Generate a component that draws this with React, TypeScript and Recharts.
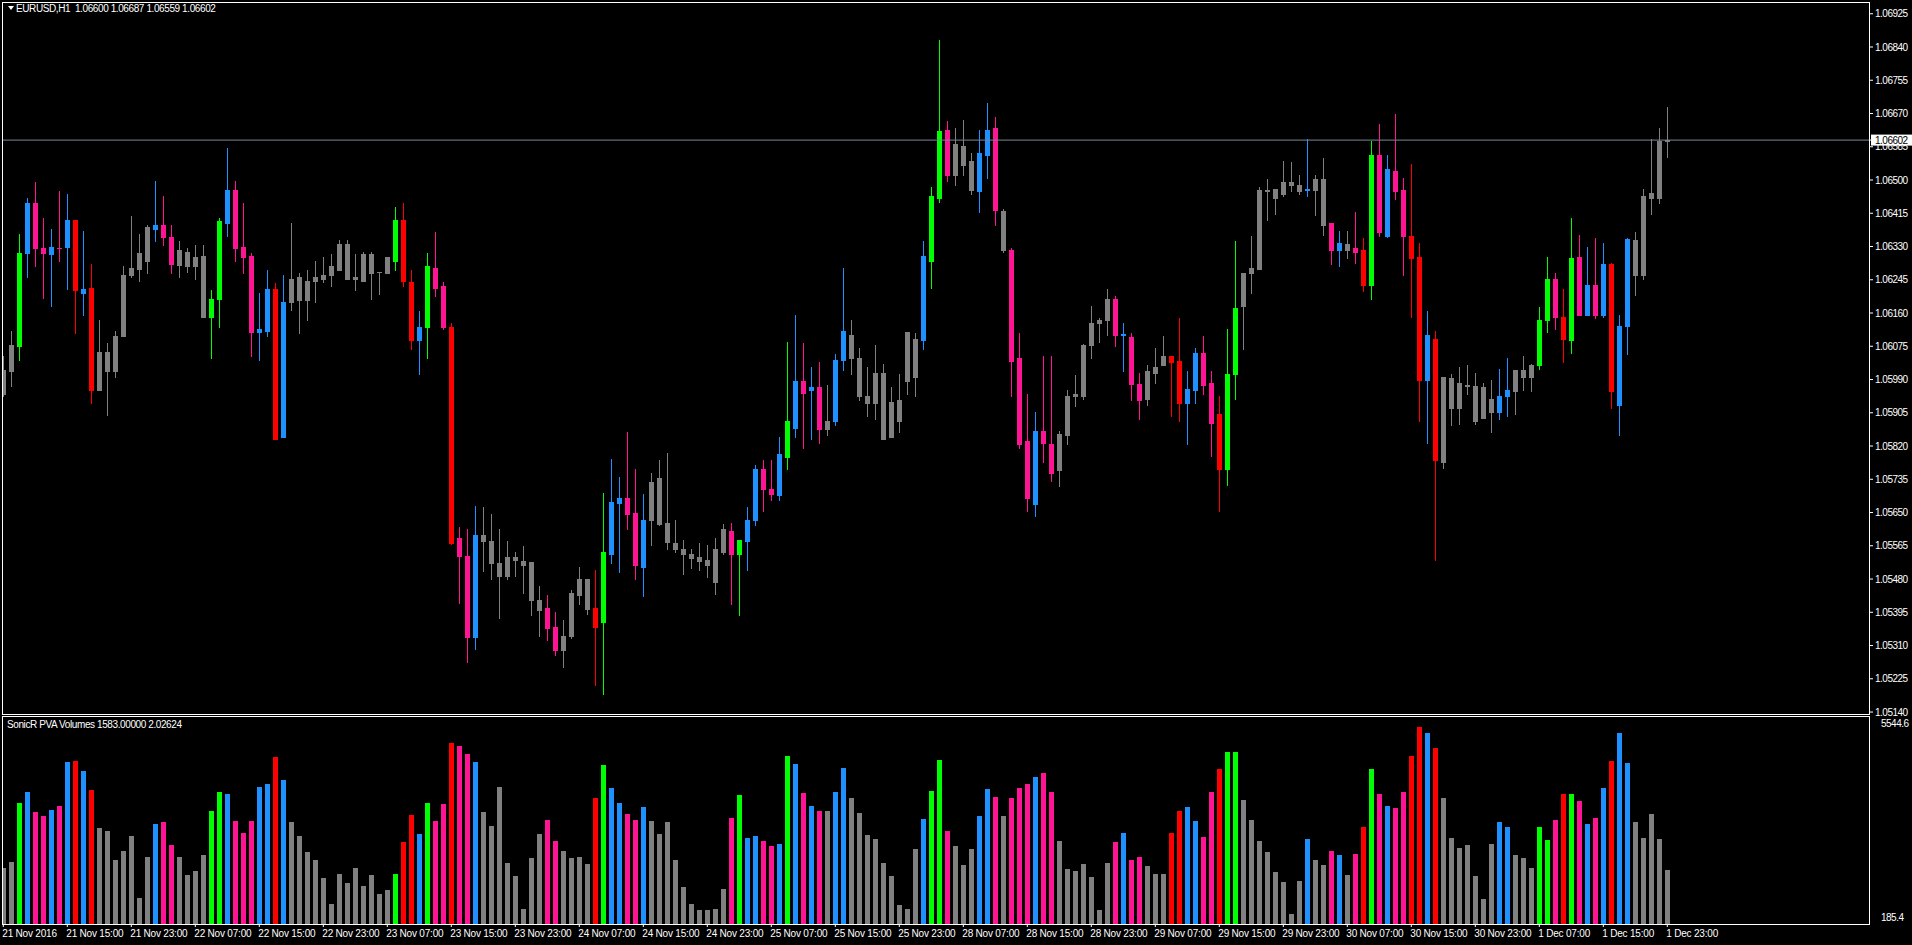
import React from 'react';
import { ComposedChart, Bar, XAxis, YAxis, ReferenceLine } from 'recharts';

// EURUSD H1, 21 Nov 07:00 .. 1 Dec 23:00 (one entry per bar)
const opens = [
  1.05954, 1.06011, 1.06075, 1.06314, 1.0644, 1.06325, 1.0631, 1.06327, 1.0633, 1.06397,
  1.06212, 1.06225, 1.05964, 1.06061, 1.06011, 1.061, 1.06256, 1.06273, 1.06292, 1.06376,
  1.06386, 1.06355, 1.06284, 1.06317, 1.06281, 1.06306, 1.06151, 1.06195, 1.06391, 1.06475,
  1.0633, 1.06306, 1.06112, 1.06115, 1.06222, 1.05844, 1.06187, 1.06251, 1.06192, 1.06243,
  1.06246, 1.06256, 1.06271, 1.06337, 1.06246, 1.06243, 1.06312, 1.06265, 1.06263, 1.06294,
  1.06399, 1.0624, 1.0609, 1.06123, 1.06276, 1.06228, 1.06125, 1.05586, 1.0554, 1.05331,
  1.05593, 1.05576, 1.0552, 1.05489, 1.05537, 1.05527, 1.05523, 1.05426, 1.05407, 1.05357,
  1.05299, 1.05334, 1.05438, 1.05479, 1.05407, 1.0537, 1.05543, 1.05675, 1.05688, 1.0565,
  1.05512, 1.0563, 1.05737, 1.05624, 1.05573, 1.05556, 1.05545, 1.05527, 1.05529, 1.05473,
  1.0555, 1.05604, 1.05543, 1.05578, 1.05632, 1.0576, 1.05709, 1.05694, 1.05793, 1.05865,
  1.05987, 1.05962, 1.05972, 1.05863, 1.05883, 1.06041, 1.06104, 1.06046, 1.05949, 1.05931,
  1.06007, 1.05842, 1.05883, 1.05987, 1.05997, 1.06092, 1.06294, 1.06455, 1.06629, 1.06512,
  1.06586, 1.06549, 1.06473, 1.06565, 1.06632, 1.06422, 1.06322, 1.06044, 1.05832, 1.05673,
  1.05859, 1.05826, 1.05758, 1.05849, 1.05949, 1.05947, 1.06077, 1.06135, 1.06141, 1.06195,
  1.06103, 1.06098, 1.05978, 1.05939, 1.06007, 1.06028, 1.06049, 1.06038, 1.05929, 1.05964,
  1.06057, 1.05982, 1.05902, 1.0576, 1.06005, 1.06179, 1.06263, 1.06273, 1.06475, 1.06478,
  1.06463, 1.06496, 1.06488, 1.06474, 1.06475, 1.06502, 1.06389, 1.0632, 1.06337, 1.06325,
  1.06322, 1.06232, 1.06565, 1.06358, 1.06524, 1.06475, 1.06358, 1.06302, 1.0599, 1.06094,
  1.0578, 1.05995, 1.05916, 1.05974, 1.05974, 1.05892, 1.05941, 1.05906, 1.05947, 1.0596,
  1.05997, 1.05997, 1.06026, 1.06141, 1.06246, 1.06151, 1.06092, 1.06304, 1.06156, 1.06232,
  1.06156, 1.06286, 1.05926, 1.06128, 1.06347, 1.06256, 1.06455, 1.06455, 1.066,
];

const highs = [
  1.06049, 1.06115, 1.06363, 1.06455, 1.06496, 1.06403, 1.06376, 1.06471, 1.06463, 1.06397,
  1.0637, 1.06286, 1.06141, 1.06084, 1.06115, 1.06281, 1.06409, 1.06363, 1.06386, 1.06498,
  1.0646, 1.06386, 1.06343, 1.06325, 1.06333, 1.06335, 1.0622, 1.06403, 1.06583, 1.06498,
  1.0644, 1.06314, 1.06212, 1.06271, 1.06236, 1.06258, 1.06389, 1.06261, 1.06271, 1.06292,
  1.06304, 1.06312, 1.06347, 1.06347, 1.06312, 1.06317, 1.06317, 1.06266, 1.06304, 1.06432,
  1.0644, 1.06269, 1.06166, 1.06314, 1.06368, 1.0624, 1.06135, 1.05612, 1.05609, 1.05667,
  1.05665, 1.05647, 1.05609, 1.05578, 1.05548, 1.05564, 1.05523, 1.05461, 1.0544, 1.05395,
  1.05375, 1.05451, 1.05512, 1.05479, 1.05502, 1.05701, 1.05788, 1.05742, 1.05857, 1.0576,
  1.05698, 1.0575, 1.05785, 1.05803, 1.0563, 1.05581, 1.05556, 1.05573, 1.05566, 1.05586,
  1.0562, 1.05622, 1.05581, 1.05663, 1.05772, 1.05785, 1.05783, 1.05842, 1.06087, 1.06154,
  1.06084, 1.06023, 1.06036, 1.05977, 1.06054, 1.06276, 1.06141, 1.06071, 1.06023, 1.06077,
  1.0603, 1.05972, 1.06005, 1.06112, 1.0611, 1.06345, 1.06481, 1.06859, 1.06652, 1.06634,
  1.06654, 1.06568, 1.06629, 1.06698, 1.06662, 1.06427, 1.06327, 1.0611, 1.05954, 1.05908,
  1.06049, 1.06051, 1.05859, 1.05964, 1.06001, 1.06082, 1.06179, 1.06146, 1.06222, 1.06203,
  1.06135, 1.06108, 1.06007, 1.06026, 1.06071, 1.061, 1.06049, 1.06146, 1.06013, 1.06071,
  1.061, 1.06013, 1.05949, 1.06118, 1.06343, 1.06261, 1.06358, 1.06483, 1.06502, 1.06478,
  1.06549, 1.06547, 1.06512, 1.06604, 1.06514, 1.06557, 1.06389, 1.0637, 1.0637, 1.06419,
  1.06353, 1.06599, 1.06644, 1.06565, 1.06669, 1.06504, 1.06541, 1.06339, 1.06166, 1.06115,
  1.05997, 1.06003, 1.06023, 1.06028, 1.06007, 1.05982, 1.0599, 1.06018, 1.06046, 1.06015,
  1.06049, 1.0603, 1.06176, 1.06302, 1.06263, 1.06222, 1.06403, 1.0636, 1.0633, 1.06353,
  1.06339, 1.06289, 1.06154, 1.06353, 1.06366, 1.06478, 1.06604, 1.06634, 1.06687,
];

const lows = [
  1.05948, 1.05974, 1.06041, 1.06251, 1.06279, 1.06199, 1.06179, 1.06292, 1.06222, 1.0611,
  1.06156, 1.05929, 1.05964, 1.059, 1.05997, 1.061, 1.06251, 1.06243, 1.06263, 1.06343,
  1.06335, 1.06263, 1.06251, 1.06266, 1.06246, 1.06151, 1.06046, 1.06125, 1.06358, 1.06294,
  1.06263, 1.06051, 1.06041, 1.061, 1.05839, 1.05844, 1.06168, 1.0611, 1.06143, 1.06187,
  1.06238, 1.06228, 1.06269, 1.06246, 1.0622, 1.06243, 1.06197, 1.06209, 1.06261, 1.06271,
  1.0623, 1.06067, 1.06005, 1.06046, 1.06203, 1.06118, 1.05569, 1.05419, 1.05267, 1.05302,
  1.055, 1.05479, 1.05381, 1.05481, 1.05489, 1.05444, 1.05388, 1.05334, 1.05324, 1.05286,
  1.05256, 1.05329, 1.05415, 1.0539, 1.0521, 1.05186, 1.0552, 1.05497, 1.05609, 1.05481,
  1.05436, 1.05568, 1.05617, 1.05558, 1.05548, 1.05492, 1.05509, 1.05502, 1.05484, 1.05443,
  1.05545, 1.05415, 1.05389, 1.05502, 1.05617, 1.05655, 1.05683, 1.05681, 1.0576, 1.05842,
  1.05816, 1.05839, 1.05828, 1.05849, 1.05873, 1.06015, 1.06003, 1.05937, 1.05896, 1.0589,
  1.05839, 1.05842, 1.05857, 1.05954, 1.05949, 1.06069, 1.06225, 1.06444, 1.06498, 1.06486,
  1.06512, 1.06463, 1.06417, 1.06506, 1.06386, 1.06317, 1.05947, 1.05816, 1.05655, 1.0564,
  1.0578, 1.05731, 1.05717, 1.05824, 1.05923, 1.05939, 1.06044, 1.06087, 1.06104, 1.06075,
  1.06011, 1.05937, 1.05888, 1.05926, 1.05982, 1.06028, 1.05898, 1.05885, 1.05824, 1.05929,
  1.05954, 1.05795, 1.05653, 1.05721, 1.05939, 1.06069, 1.06212, 1.06273, 1.06399, 1.06414,
  1.06458, 1.06471, 1.06463, 1.0646, 1.06411, 1.0636, 1.06286, 1.06279, 1.063, 1.06289,
  1.06215, 1.06195, 1.06358, 1.06355, 1.06452, 1.06256, 1.06151, 1.05883, 1.05828, 1.05529,
  1.05764, 1.05873, 1.05877, 1.05954, 1.05877, 1.05892, 1.05857, 1.05888, 1.05896, 1.05902,
  1.05962, 1.0596, 1.06018, 1.06112, 1.0612, 1.06034, 1.06059, 1.06156, 1.06156, 1.06146,
  1.06151, 1.05918, 1.05849, 1.06054, 1.06207, 1.06248, 1.06414, 1.06442, 1.06559,
];

const closes = [
  1.06015, 1.06079, 1.06314, 1.0644, 1.06325, 1.06314, 1.0633, 1.06325, 1.06397, 1.0622,
  1.06222, 1.05964, 1.06061, 1.06011, 1.06102, 1.06258, 1.06276, 1.06314, 1.06381, 1.06386,
  1.06355, 1.06286, 1.0632, 1.06281, 1.06304, 1.06151, 1.06197, 1.06394, 1.06475, 1.06327,
  1.06304, 1.06112, 1.06118, 1.06222, 1.05839, 1.06189, 1.06248, 1.06192, 1.06243, 1.06251,
  1.06258, 1.06281, 1.06337, 1.06246, 1.06253, 1.06312, 1.06263, 1.06264, 1.06302, 1.06399,
  1.06243, 1.0609, 1.06125, 1.06279, 1.06225, 1.06123, 1.05573, 1.0554, 1.05333, 1.05593,
  1.05576, 1.0552, 1.05489, 1.05537, 1.05529, 1.05517, 1.05426, 1.054, 1.05355, 1.05299,
  1.05334, 1.05444, 1.05479, 1.05403, 1.05357, 1.05548, 1.05678, 1.05688, 1.05647, 1.05515,
  1.05632, 1.05729, 1.0562, 1.05574, 1.05556, 1.05545, 1.05535, 1.05537, 1.05515, 1.05556,
  1.05607, 1.05543, 1.05581, 1.0563, 1.0576, 1.05709, 1.05698, 1.05799, 1.05885, 1.05985,
  1.05956, 1.0597, 1.05863, 1.05885, 1.06041, 1.06115, 1.06046, 1.05949, 1.05931, 1.06007,
  1.05839, 1.05933, 1.05937, 1.06112, 1.06094, 1.06306, 1.06458, 1.06626, 1.06512, 1.06591,
  1.06539, 1.06475, 1.0657, 1.06629, 1.06424, 1.0632, 1.06038, 1.05826, 1.05686, 1.05859,
  1.05828, 1.05752, 1.05852, 1.05949, 1.05954, 1.06079, 1.06135, 1.06141, 1.06195, 1.06104,
  1.06106, 1.05978, 1.05937, 1.06011, 1.06023, 1.06049, 1.06036, 1.05931, 1.05966, 1.06059,
  1.05977, 1.0588, 1.05762, 1.06005, 1.06174, 1.06261, 1.06276, 1.06475, 1.06473, 1.06455,
  1.06496, 1.06486, 1.06473, 1.06476, 1.06502, 1.06386, 1.0632, 1.06339, 1.0632, 1.06317,
  1.06232, 1.06565, 1.06368, 1.06527, 1.06471, 1.06358, 1.063, 1.0599, 1.06104, 1.05783,
  1.05997, 1.05916, 1.0598, 1.05975, 1.05883, 1.0597, 1.05908, 1.05947, 1.05962, 1.06015,
  1.06015, 1.06028, 1.06143, 1.06248, 1.06151, 1.06094, 1.063, 1.06156, 1.06232, 1.06154,
  1.06286, 1.0596, 1.06128, 1.0635, 1.06256, 1.06458, 1.06467, 1.066, 1.06602,
];

const volumes = [
  1644, 1790, 3318, 3602, 3085, 2981, 3136, 3240, 4379, 4405,
  4146, 3654, 2670, 2593, 1842, 2075, 2463, 858, 1920, 2774,
  2826, 2230, 1920, 1454, 1557, 1971, 3111, 3602, 3551, 2852,
  2541, 2852, 3732, 3810, 4509, 3913, 2826, 2463, 2049, 1842,
  1376, 703, 1480, 1246, 1635, 1169, 1454, 962, 1065, 1480,
  2308, 3007, 2515, 3318, 2852, 3292, 4871, 4793, 4586, 4379,
  3085, 2722, 3732, 1764, 1428, 573, 1894, 2515, 2878, 2334,
  2075, 1894, 1920, 1738, 3447, 4302, 3706, 3318, 3033, 2878,
  3214, 2852, 2515, 2826, 1842, 1143, 703, 547, 547, 573,
  1091, 2929, 3525, 2412, 2463, 2334, 2204, 2256, 4535, 4327,
  3577, 3240, 3111, 3111, 3602, 4224, 3447, 3059, 2489, 2386,
  1764, 1428, 677, 573, 2127, 2903, 3628, 4431, 2593, 2204,
  1713, 2127, 2981, 3680, 3473, 2981, 3447, 3706, 3810, 3991,
  4094, 3602, 2334, 1609, 1557, 1738, 1402, 547, 1764, 2308,
  2541, 1842, 1920, 1687, 1480, 1480, 2541, 3111, 3214, 2852,
  2437, 3602, 4198, 4638, 4638, 3395, 2878, 2334, 2049, 1531,
  1272, 444, 1298, 2386, 1842, 1713, 2075, 1971, 1454, 1997,
  2696, 4198, 3551, 3240, 3188, 3602, 4535, 5285, 5130, 4742,
  3447, 2412, 2153, 2230, 1428, 832, 2256, 2826, 2696, 1971,
  1894, 1635, 2696, 2360, 2878, 3551, 3551, 3369, 2774, 2929,
  3706, 4405, 5130, 4353, 2826, 2412, 3033, 2386, 1583,
];

// PVA colour class per bar: g normal, l climax up, r climax down, b rising up, m rising down
const kinds = (
  'gglbmmbmbr' + 'brgggggggb' + 'mmggggllbm' + 'mmbbrbgggg' + 'gggggggggl' +
  'rrblmmrmmb' + 'ggggggggmm' + 'ggggrlbbmm' + 'bggggggggg' + 'gmlbbmmblb' +
  'mbmgbbgggg' + 'gggggbllmg' + 'ggbbmgmmmb' + 'mmgggggggm' + 'bmmgggrrbb' +
  'mmrllggggg' + 'gggbggmbgm' + 'rlmbmmrrbr' + 'gggggggbbg' + 'ggllmrlmbm' +
  'brbbggggg'
).split('');

const timeTickIdx = [0, 8, 16, 24, 32, 40, 48, 56, 64, 72, 80, 88, 96, 104, 112, 120, 128, 136, 144, 152, 160, 168, 176, 184, 192, 200, 208];
const timeTickLabels = [
  '21 Nov 2016', '21 Nov 15:00', '21 Nov 23:00', '22 Nov 07:00', '22 Nov 15:00', '22 Nov 23:00',
  '23 Nov 07:00', '23 Nov 15:00', '23 Nov 23:00', '24 Nov 07:00', '24 Nov 15:00', '24 Nov 23:00',
  '25 Nov 07:00', '25 Nov 15:00', '25 Nov 23:00', '28 Nov 07:00', '28 Nov 15:00', '28 Nov 23:00',
  '29 Nov 07:00', '29 Nov 15:00', '29 Nov 23:00', '30 Nov 07:00', '30 Nov 15:00', '30 Nov 23:00',
  '1 Dec 07:00', '1 Dec 15:00', '1 Dec 23:00',
];

const priceTicks = [
  1.06925, 1.0684, 1.06755, 1.0667, 1.06585, 1.065, 1.06415, 1.0633, 1.06245, 1.0616, 1.06075,
  1.0599, 1.05905, 1.0582, 1.05735, 1.0565, 1.05565, 1.0548, 1.05395, 1.0531, 1.05225, 1.0514,
];
const bidPrice = 1.06602;
const volTicks = [5544.6, 185.4];
const lastVolume = 1583;
const lastRatio = 2.02624;

const kindColors: Record<string, string> = {
  g: '#808080',
  l: '#00ff00',
  b: '#1e90ff',
  m: '#ff1493',
  r: '#ff0000',
};

const candles = opens.map((o, i) => ({
  i,
  open: o,
  high: highs[i],
  low: lows[i],
  close: closes[i],
  volume: volumes[i],
  kind: kinds[i],
}));

const xDomain = [-0.1625, 233.2125];
const priceDomain = [1.05135, 1.06955];
const volDomain = [185.4, 5544.6];

const FONT = "'Liberation Sans', Arial, sans-serif";

const renderCandle = (props: any) => {
  const { x, y, width, height, payload } = props;
  if (x == null || y == null || !payload) return <g />;
  const top = Math.min(y, y + height);
  const h = Math.abs(height);
  const span = payload.high - payload.low;
  const k = span > 0 ? h / span : 0;
  const yOf = (p: number) => top + (payload.high - p) * k;
  const cx = Math.round(x + width / 2);
  const wTop = Math.round(top);
  const wBot = Math.round(top + h);
  const bTop = Math.round(yOf(Math.max(payload.open, payload.close)));
  const bBot = Math.round(yOf(Math.min(payload.open, payload.close)));
  const color = kindColors[payload.kind];
  return (
    <g>
      <rect x={cx} y={wTop} width={1} height={Math.max(1, wBot - wTop + 1)} fill={color} />
      <rect x={cx - 2} y={bTop} width={5} height={Math.max(1, bBot - bTop + 1)} fill={color} />
    </g>
  );
};

const renderVolume = (props: any) => {
  const { x, y, width, height, payload } = props;
  if (x == null || y == null || !payload) return <g />;
  const cx = Math.round(x + width / 2);
  const top = Math.round(Math.min(y, y + height));
  const bot = Math.round(Math.max(y, y + height));
  return <rect x={cx - 2} y={top} width={5} height={Math.max(1, bot - top)} fill={kindColors[payload.kind]} />;
};

const PriceTick = (props: any) => {
  const { x, y, payload } = props;
  const v = payload.value;
  if (v === bidPrice) {
    return (
      <g>
        <rect x={x - 4} y={y - 5.5} width={46} height={11} fill="#ffffff" />
        <text x={x} y={y} dy={3.6} fill="#000000" fontSize={10} fontFamily={FONT} letterSpacing={-0.5}>
          {v.toFixed(5)}
        </text>
      </g>
    );
  }
  return (
    <text x={x} y={y} dy={3.6} fill="#ffffff" fontSize={10} fontFamily={FONT} letterSpacing={-0.5}>
      {v.toFixed(5)}
    </text>
  );
};

const VolTick = (props: any) => {
  const { x, y, payload } = props;
  const v = payload.value;
  const dy = v === volDomain[1] ? 9.5 : -3.5;
  return (
    <text x={x} y={y} dy={dy} fill="#ffffff" fontSize={10} fontFamily={FONT} letterSpacing={-0.5}>
      {v.toFixed(1)}
    </text>
  );
};

const TimeTick = (props: any) => {
  const { x, y, payload } = props;
  const label = timeTickLabels[timeTickIdx.indexOf(payload.value)];
  return (
    <text x={x - 1} y={y} dy={8} fill="#ffffff" fontSize={10} fontFamily={FONT} letterSpacing={-0.2}>
      {label}
    </text>
  );
};

const headerStyle: React.CSSProperties = {
  position: 'absolute',
  color: '#ffffff',
  fontFamily: FONT,
  fontSize: 10,
  letterSpacing: -0.4,
  whiteSpace: 'pre',
  lineHeight: '12px',
};

export default function App() {
  const last = candles[candles.length - 1];
  return (
    <div style={{ position: 'relative', width: 1912, height: 945, background: '#000000', overflow: 'hidden' }}>
      <style>{'body{margin:0;background:#000000} .recharts-surface{overflow:visible}'}</style>

      <div style={{ position: 'absolute', left: 0, top: 0 }}>
        <ComposedChart width={1912} height={716} data={candles} margin={{ top: 2, right: 0, bottom: 2, left: 2 }}>
          <XAxis type="number" dataKey="i" domain={xDomain} allowDataOverflow hide />
          <YAxis
            orientation="right"
            type="number"
            domain={priceDomain}
            allowDataOverflow
            ticks={[...priceTicks, bidPrice]}
            interval={0}
            width={43}
            axisLine={false}
            tickLine={{ stroke: '#ffffff' }}
            tickSize={4}
            tickMargin={2}
            tick={<PriceTick />}
          />
          <ReferenceLine y={bidPrice} stroke="#778899" strokeWidth={1} />
          <Bar
            dataKey={(d: any) => [d.low, d.high]}
            shape={renderCandle}
            barSize={5}
            isAnimationActive={false}
          />
        </ComposedChart>
      </div>

      <div style={{ position: 'absolute', left: 0, top: 716 }}>
        <ComposedChart width={1912} height={229} data={candles} margin={{ top: 1, right: 0, bottom: 0, left: 2 }}>
          <XAxis
            type="number"
            dataKey="i"
            domain={xDomain}
            allowDataOverflow
            ticks={timeTickIdx}
            interval={0}
            height={21}
            axisLine={false}
            tickLine={{ stroke: '#ffffff' }}
            tickSize={3}
            tickMargin={2}
            tick={<TimeTick />}
          />
          <YAxis
            orientation="right"
            type="number"
            domain={volDomain}
            allowDataOverflow
            ticks={volTicks}
            interval={0}
            width={43}
            axisLine={false}
            tickLine={false}
            tickMargin={6}
            tick={<VolTick />}
          />
          <Bar dataKey="volume" shape={renderVolume} barSize={5} isAnimationActive={false} />
        </ComposedChart>
      </div>

      {/* panel frames */}
      <div style={{ position: 'absolute', left: 2, top: 2, width: 1868, height: 713, border: '1px solid #ffffff', boxSizing: 'border-box', pointerEvents: 'none' }} />
      <div style={{ position: 'absolute', left: 2, top: 716, width: 1868, height: 209, border: '1px solid #ffffff', boxSizing: 'border-box', pointerEvents: 'none' }} />

      {/* window titles */}
      <div style={{ position: 'absolute', left: 8, top: 6, width: 0, height: 0, borderLeft: '3px solid transparent', borderRight: '3px solid transparent', borderTop: '4px solid #ffffff' }} />
      <div style={{ ...headerStyle, left: 16, top: 3 }}>
        {`EURUSD,H1  ${last.open.toFixed(5)} ${last.high.toFixed(5)} ${last.low.toFixed(5)} ${last.close.toFixed(5)}`}
      </div>
      <div style={{ ...headerStyle, left: 7, top: 719 }}>
        {`SonicR PVA Volumes ${lastVolume.toFixed(5)} ${lastRatio.toFixed(5)}`}
      </div>
    </div>
  );
}
